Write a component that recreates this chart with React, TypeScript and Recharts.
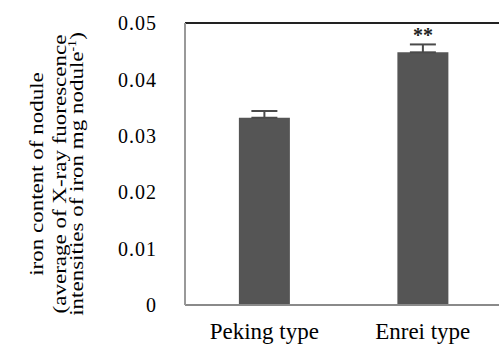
import React from 'react'
import {
  BarChart,
  Bar,
  XAxis,
  YAxis,
  ErrorBar,
  LabelList,
  ReferenceLine,
} from 'recharts'

const categories = ['Peking type', 'Enrei type']
const ironValues = [0.0332, 0.0448]
const ironErrors = [0.0012, 0.0014]
const significance = ['', '**']
const yTicks = [0, 0.01, 0.02, 0.03, 0.04, 0.05]

const data = categories.map((name, i) => ({
  name,
  iron: ironValues[i],
  err: [0, ironErrors[i]],
  sig: significance[i],
}))

const serif = 'Liberation Serif, DejaVu Serif, serif'

const SigLabel = (props: any) => {
  const { x, y, width, value } = props
  if (!value) return null
  return (
    <text
      x={x + width / 2}
      y={y - 10}
      textAnchor="middle"
      style={{ fontFamily: serif, fontSize: 20, fontWeight: 'bold' }}
      fill="#222"
    >
      {value}
    </text>
  )
}

// three-line rotated label on the left, a little squeezed across the lines
const YLabel = () => {
  const cy = 174
  const rot = (x: number) => `translate(${x}, ${cy}) rotate(-90) scale(1, 0.82)`
  return (
    <g style={{ fontFamily: serif, fontSize: 23 }} fill="#000" textAnchor="middle">
      <text transform={rot(43)}>iron content of nodule</text>
      <text transform={rot(66)}>(average of X-ray fuorescence</text>
      <text transform={rot(83)}>
        intensities of iron mg nodule
        <tspan style={{ fontSize: 14 }} dy={-9}>-1</tspan>
        <tspan dy={9}>)</tspan>
      </text>
    </g>
  )
}

export default function App() {
  return (
    <div style={{ position: 'absolute', left: 0, top: 0, width: 499, height: 346, overflow: 'hidden', background: '#fff', fontFamily: serif }}>
      <BarChart
        width={502}
        height={346}
        data={data}
        margin={{ top: 23, right: 0, bottom: 0, left: 0 }}
        barCategoryGap="34%"
        style={{ fontFamily: serif }}
      >
        <XAxis
          dataKey="name"
          axisLine={{ stroke: '#8a8a8a', strokeWidth: 2 }}
          tickLine={false}
          height={41}
          tickMargin={12}
          tick={{ fill: '#000', fontSize: 23, style: { fontFamily: serif } }}
        />
        <YAxis
          domain={[0, 0.05]}
          ticks={yTicks}
          width={185}
          axisLine={{ stroke: '#999', strokeWidth: 2 }}
          tickLine={false}
          tickSize={0}
          tickMargin={28}
          tick={{ fill: '#000', fontSize: 20, letterSpacing: 1, style: { fontFamily: serif } }}
          tickFormatter={(v: number) => (v === 0 ? '0' : v.toFixed(2))}
        />
        <ReferenceLine y={0.05} stroke="#222" strokeWidth={2} />
        <Bar dataKey="iron" fill="#555555" isAnimationActive={false}>
          <ErrorBar dataKey="err" width={13} stroke="#4a4a4a" strokeWidth={2} />
          <LabelList dataKey="sig" content={<SigLabel />} />
        </Bar>
        <YLabel />
      </BarChart>
    </div>
  )
}
